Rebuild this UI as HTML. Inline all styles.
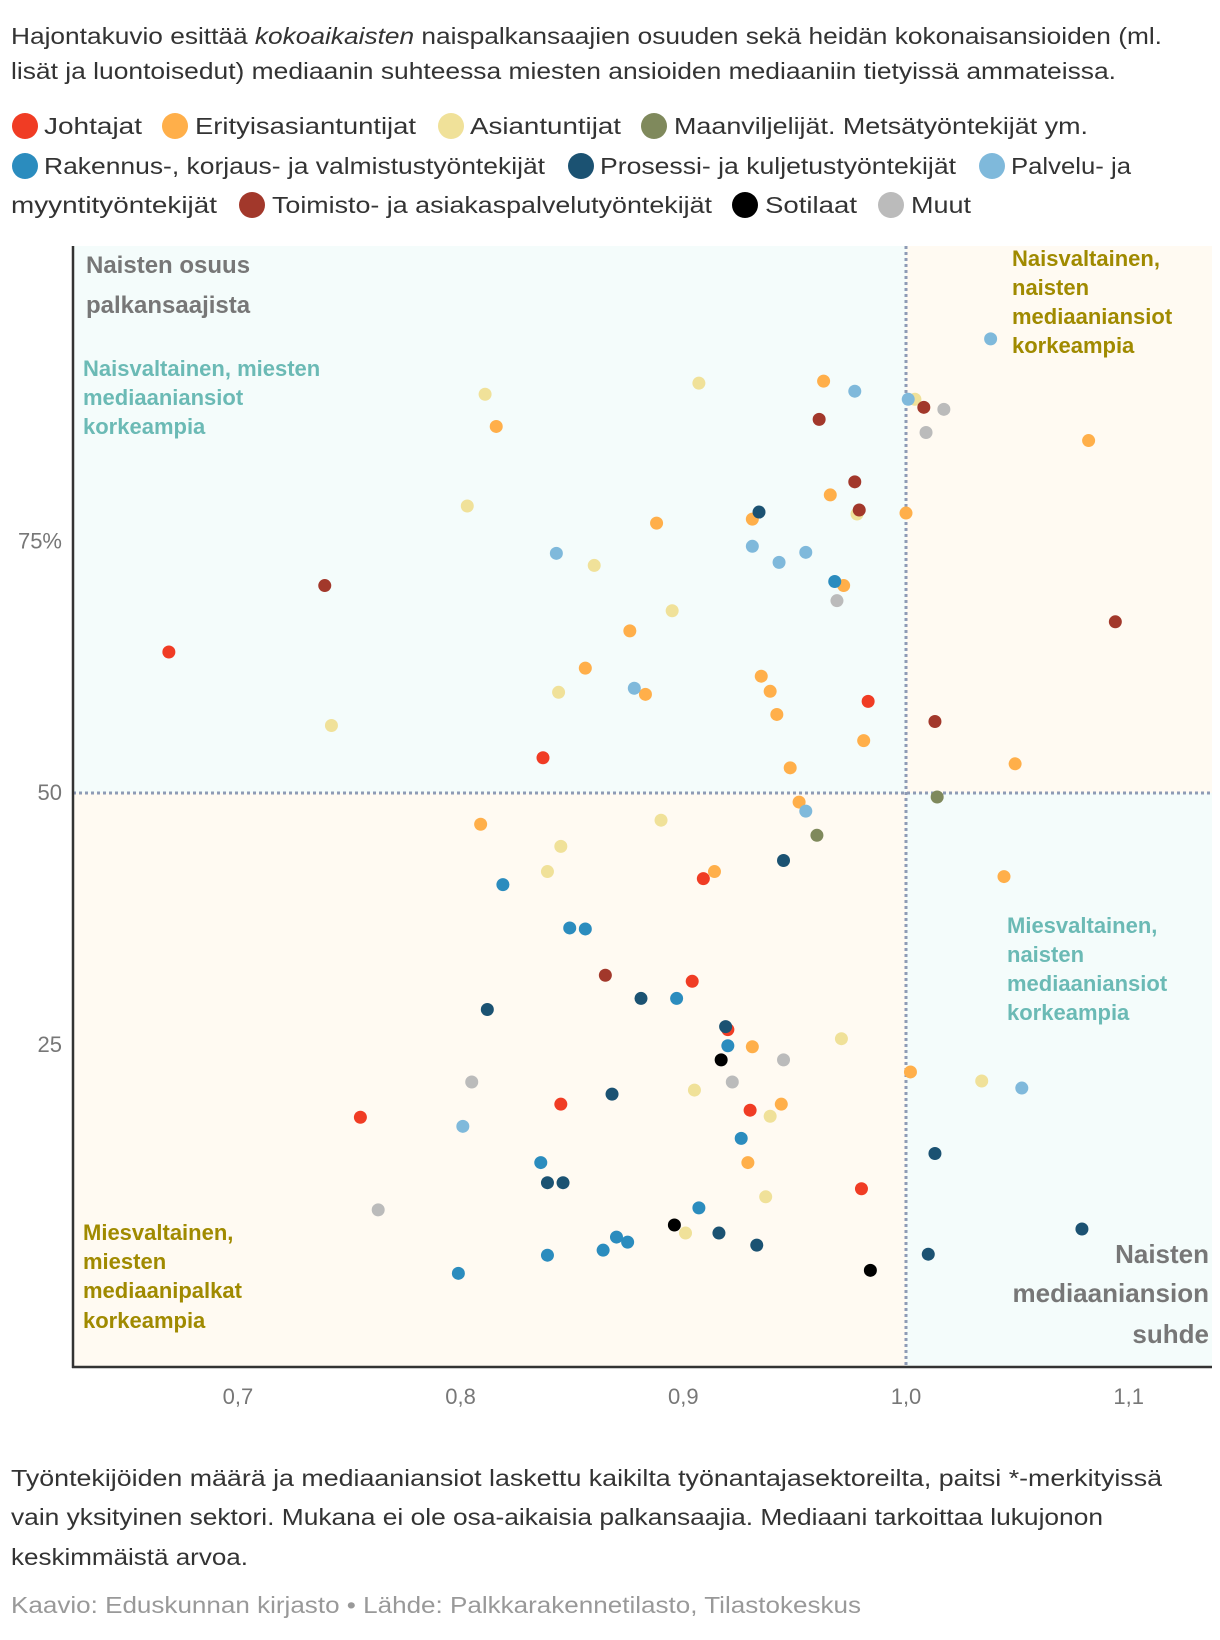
<!DOCTYPE html>
<html><head><meta charset="utf-8"><style>
body{margin:0;background:#fff}
svg{display:block;font-family:"Liberation Sans",sans-serif}
</style></head><body>
<svg id="chart" width="1220" height="1640" viewBox="0 0 1220 1640" xmlns="http://www.w3.org/2000/svg">
<g fill="#333" font-size="23">
<text x="11" y="44" textLength="1151" lengthAdjust="spacingAndGlyphs">Hajontakuvio esittää <tspan font-style="italic">kokoaikaisten</tspan> naispalkansaajien osuuden sekä heidän kokonaisansioiden (ml.</text>
<text x="11" y="79" textLength="1105" lengthAdjust="spacingAndGlyphs">lisät ja luontoisedut) mediaanin suhteessa miesten ansioiden mediaaniin tietyissä ammateissa.</text>
</g>
<g id="legend" font-size="23" fill="#333"></g>
<g id="plot"></g>
<g fill="#333" font-size="23">
<text x="11" y="1486" textLength="1151" lengthAdjust="spacingAndGlyphs">Työntekijöiden määrä ja mediaaniansiot laskettu kaikilta työnantajasektoreilta, paitsi *-merkityissä</text>
<text x="11" y="1525" textLength="1092" lengthAdjust="spacingAndGlyphs">vain yksityinen sektori. Mukana ei ole osa-aikaisia palkansaajia. Mediaani tarkoittaa lukujonon</text>
<text x="11" y="1565" textLength="237" lengthAdjust="spacingAndGlyphs">keskimmäistä arvoa.</text>
</g>
<text x="11" y="1613" fill="#999" font-size="23" textLength="850" lengthAdjust="spacingAndGlyphs">Kaavio: Eduskunnan kirjasto • Lähde: Palkkarakennetilasto, Tilastokeskus</text>
</svg>
<script>
const categories = ["Johtajat","Erityisasiantuntijat","Asiantuntijat","Maanviljelijät. Metsätyöntekijät ym.","Rakennus-, korjaus- ja valmistustyöntekijät","Prosessi- ja kuljetustyöntekijät","Palvelu- ja myyntityöntekijät","Toimisto- ja asiakaspalvelutyöntekijät","Sotilaat","Muut"];
const colors = ["#f03c24","#ffaf4a","#f0e199","#7f895c","#2b8cbe","#1b5272","#7fb9db","#a2382b","#000000","#bbbbbb"];
const xTicks = [0.7,0.8,0.9,1.0,1.1];
const xTickLabels = ["0,7","0,8","0,9","1,0","1,1"];
const yTicks = [75,50,25];
const yTickLabels = ["75%","50","25"];
const johtajat = [[0.669,64.0],[0.837,53.5],[0.983,59.1],[0.909,41.5],[0.904,31.3],[0.920,26.5],[0.845,19.1],[0.755,17.8],[0.930,18.5],[0.980,10.7]];
const erityis = [[0.816,86.4],[0.963,90.9],[0.966,79.6],[0.931,77.2],[0.888,76.8],[0.972,70.6],[0.876,66.1],[0.856,62.4],[0.883,59.8],[0.935,61.6],[0.939,60.1],[0.942,57.8],[0.981,55.2],[0.948,52.5],[1.000,77.8],[1.082,85.0],[1.049,52.9],[0.952,49.1],[0.809,46.9],[0.914,42.2],[0.931,24.8],[0.944,19.1],[0.929,13.3],[1.002,22.3],[1.044,41.7]];
const asiantuntijat = [[0.811,89.6],[0.803,78.5],[0.860,72.6],[0.742,56.7],[0.907,90.7],[0.895,68.1],[0.844,60.0],[0.978,77.7],[1.004,89.1],[0.890,47.3],[0.845,44.7],[0.839,42.2],[0.971,25.6],[0.905,20.5],[0.939,17.9],[0.937,9.9],[0.901,6.3],[1.034,21.4]];
const maanviljelijat = [[0.960,45.8],[1.014,49.6]];
const rakennus = [[0.968,71.0],[0.819,40.9],[0.849,36.6],[0.856,36.5],[0.897,29.6],[0.920,24.9],[0.926,15.7],[0.836,13.3],[0.907,8.8],[0.870,5.9],[0.875,5.4],[0.864,4.6],[0.839,4.1],[0.799,2.3]];
const prosessi = [[0.934,77.9],[0.945,43.3],[0.812,28.5],[0.881,29.6],[0.919,26.8],[0.868,20.1],[0.839,11.3],[0.846,11.3],[0.916,6.3],[0.933,5.1],[1.013,14.2],[1.079,6.7],[1.010,4.2]];
const palvelu = [[0.843,73.8],[0.878,60.4],[0.931,74.5],[0.943,72.9],[0.955,73.9],[0.977,89.9],[1.001,89.1],[1.038,95.1],[0.955,48.2],[0.801,16.9],[1.052,20.7]];
const toimisto = [[0.739,70.6],[0.961,87.1],[0.977,80.9],[0.979,78.1],[1.008,88.3],[1.013,57.1],[1.094,67.0],[0.865,31.9]];
const sotilaat = [[0.917,23.5],[0.896,7.1],[0.984,2.6]];
const muut = [[0.969,69.1],[1.017,88.1],[1.009,85.8],[0.805,21.3],[0.922,21.3],[0.945,23.5],[0.763,8.6]];
const series = [johtajat,erityis,asiantuntijat,maanviljelijat,rakennus,prosessi,palvelu,toimisto,sotilaat,muut];

const NS="http://www.w3.org/2000/svg";
const L=73,R=1212,T=246,B=1367;
const xS=v=>906+(v-1)*2227;
const yS=v=>793-(v-50)*10.07;
function mk(tag,attrs,parent,txt){const e=document.createElementNS(NS,tag);for(const k in attrs)e.setAttribute(k,attrs[k]);if(txt!==undefined)e.textContent=txt;parent.appendChild(e);return e;}

// legend
const lg=document.getElementById('legend');
const legendPos=[[25,44,98],[175,195,221],[451,470,151],[654,674,414],[25,44,501],[581,600,356],[992,1011,120],[252,272,440],[745,765,92],[891,911,60]];
categories.forEach((c,i)=>{
  const p=legendPos[i];
  const row=i<4?0:(i<7?1:2);
  const y=[134,174,213][row];
  const g=mk('g',{},lg);
  
  
  const ci=mk('circle',{cx:p[0],cy:y-8,r:13,fill:colors[i]},g);
  
  
  if(i===6){
    mk('text',{x:p[1],y:y,textLength:p[2],lengthAdjust:'spacingAndGlyphs'},g,'Palvelu- ja');
    mk('text',{x:11,y:213,textLength:206,lengthAdjust:'spacingAndGlyphs'},g,'myyntityöntekijät');
  } else {
    mk('text',{x:p[1],y:y,textLength:p[2],lengthAdjust:'spacingAndGlyphs'},g,c);
  }
});

// plot
const pl=document.getElementById('plot');


const x1=xS(1),y50=yS(50);
const qs=[[L,T,x1-L,y50-T,'#f4fcfb'],[x1,T,R-x1,y50-T,'#fffaf2'],[L,y50,x1-L,B-y50,'#fffaf2'],[x1,y50,R-x1,B-y50,'#f4fcfb']];
qs.forEach(q=>{const r=mk('rect',{x:q[0],y:q[1],width:q[2],height:q[3],fill:q[4]},pl);});
const vl=mk('line',{x1:x1,x2:x1,y1:T,y2:B,stroke:'#8e9bb5','stroke-width':3,'stroke-dasharray':'3 3'},pl);


const hl=mk('line',{x1:L,x2:R,y1:y50,y2:y50,stroke:'#8e9bb5','stroke-width':3,'stroke-dasharray':'3 3'},pl);



// annotations
function ann(lines,x,ys,fill,size,anchor,name){
  const g=mk('g',{fill:fill,'font-size':size,'font-weight':'bold','text-anchor':anchor||'start'},pl);
  
  
  lines.forEach((t,i)=>mk('text',{x:x,y:ys[i]},g,t));
}
ann(["Naisten osuus","palkansaajista"],86,[273,313],'#777',24,'start','y-axis-title');
ann(["Naisvaltainen, miesten","mediaaniansiot","korkeampia"],83,[376,405,434],'#6bbab5',22,'start','annotation-top-left');
ann(["Naisvaltainen,","naisten","mediaaniansiot","korkeampia"],1012,[266,295,324,353],'#a08a00',22,'start','annotation-top-right');
ann(["Miesvaltainen,","naisten","mediaaniansiot","korkeampia"],1007,[933,962,991,1020],'#6bbab5',22,'start','annotation-bottom-right');
ann(["Miesvaltainen,","miesten","mediaanipalkat","korkeampia"],83,[1240,1269,1298,1328],'#a08a00',22,'start','annotation-bottom-left');
ann(["Naisten","mediaaniansion","suhde"],1209,[1263,1302,1343],'#777',26,'end','x-axis-title');

// dots
series.forEach((s,i)=>{
  const g=mk('g',{fill:colors[i]},pl);
  
  
  s.forEach(d=>{
    const c=mk('circle',{cx:xS(d[0]),cy:yS(d[1]),r:6.5},g);
    
    
  });
});

// axes
const ax=mk('line',{x1:L,x2:L,y1:T,y2:B+1,stroke:'#333','stroke-width':2.5},pl);


const bx=mk('line',{x1:L-1,x2:R,y1:B,y2:B,stroke:'#333','stroke-width':2.5},pl);


xTicks.forEach((v,i)=>{
  const t=mk('text',{x:xS(v),y:1404,fill:'#777','font-size':22,'text-anchor':'middle'},pl,xTickLabels[i]);
  
  
});
yTicks.forEach((v,i)=>{
  const t=mk('text',{x:62,y:yS(v)+7,fill:'#777','font-size':22,'text-anchor':'end'},pl,yTickLabels[i]);
  
  
});
</script>
</body></html>
